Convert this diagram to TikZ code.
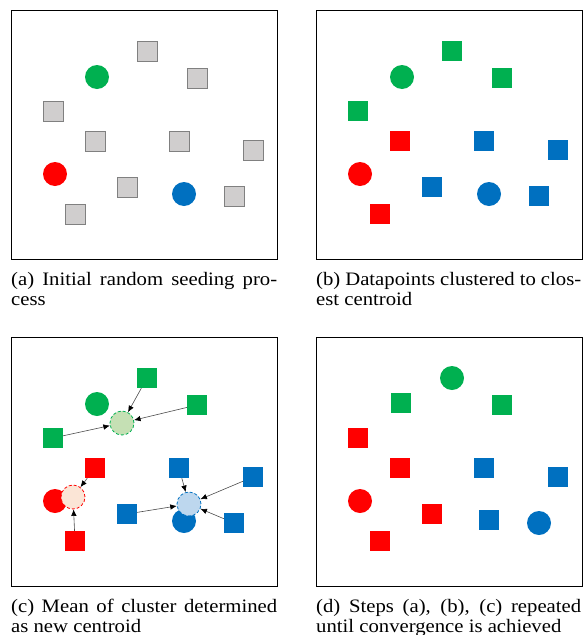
\documentclass[tikz,border=0pt]{standalone}
\usepackage{fontspec}
\setmainfont[FakeStretch=1.09]{Liberation Serif}
\usetikzlibrary{arrows.meta}
\definecolor{pointGreen}{RGB}{0,176,80}
\definecolor{pointRed}{RGB}{255,0,0}
\definecolor{pointBlue}{RGB}{0,112,192}
\definecolor{pointGray}{RGB}{208,206,206}
\definecolor{pointGrayBorder}{RGB}{128,128,128}
\definecolor{meanGreen}{RGB}{197,224,180}
\definecolor{meanRed}{RGB}{251,229,214}
\definecolor{meanBlue}{RGB}{189,215,238}
\tikzstyle{figure} = [x = 1pt, y = -1pt]
\tikzstyle{panelFrame} = [draw=black, line width=0.8pt]
\tikzstyle{dataSquare} = [rectangle, minimum size=20pt, inner sep=0pt]
\tikzstyle{graySquare} = [dataSquare, fill=pointGray, draw=pointGrayBorder, line width=0.8pt]
\tikzstyle{centroid} = [circle, minimum size=24pt, inner sep=0pt]
\tikzstyle{meanCentroid} = [centroid, densely dashed, line width=0.8pt]
\tikzstyle{meanArrow} = [draw=black!70, line width=0.6pt, -{Latex[black, length=6.5pt, width=5.5pt]}]
\tikzstyle{captionText} = [anchor=base west, align=left, inner sep=0pt, font=\fontsize{19}{20}\selectfont]
\newcommand{\panelBox}[2]{\draw [panelFrame] (#1, #2) rectangle + (266, 249);}
\newcommand{\grayPoint}[3]{\node [graySquare] (#1) at (#2, #3) {};}
\newcommand{\pointSquare}[4]{\node [dataSquare, fill=#2] (#1) at (#3, #4) {};}
\newcommand{\centroidDot}[4]{\node [centroid, fill=#2] (#1) at (#3, #4) {};}
\newcommand{\meanDot}[5]{\node [meanCentroid, draw=#2, fill=#3] (#1) at (#4, #5) {};}

\begin{document}
\begin{tikzpicture}[figure]
      \useasboundingbox (0, 0) rectangle (582, 635);

      % (a) initial seeding
      \panelBox{11}{10}
      \grayPoint{a1}{147}{51}
      \grayPoint{a2}{197}{78}
      \grayPoint{a3}{53}{111}
      \grayPoint{a4}{95}{141}
      \grayPoint{a5}{179}{141}
      \grayPoint{a6}{253}{150}
      \grayPoint{a7}{127}{187}
      \grayPoint{a8}{234}{196}
      \grayPoint{a9}{75}{214}
      \centroidDot{aG}{pointGreen}{97}{77}
      \centroidDot{aR}{pointRed}{55}{174}
      \centroidDot{aB}{pointBlue}{184}{194}
      % base anchor sits on the last line
      \node [captionText] (aCap) at (11, 305) {\makebox[266pt][s]{(a) Initial random seeding pro-}\\cess};

      % (b) clustered
      \panelBox{316}{10}
      \pointSquare{bG1}{pointGreen}{452}{51}
      \pointSquare{bG2}{pointGreen}{502}{78}
      \pointSquare{bG3}{pointGreen}{358}{111}
      \pointSquare{bR1}{pointRed}{400}{141}
      \pointSquare{bB1}{pointBlue}{484}{141}
      \pointSquare{bB2}{pointBlue}{558}{150}
      \pointSquare{bB3}{pointBlue}{432}{187}
      \pointSquare{bB4}{pointBlue}{539}{196}
      \pointSquare{bR2}{pointRed}{380}{214}
      \centroidDot{bG}{pointGreen}{402}{77}
      \centroidDot{bR}{pointRed}{360}{174}
      \centroidDot{bB}{pointBlue}{489}{194}
      \node [captionText] (bCap) at (316, 305) {\makebox[265pt][s]{(b) Datapoints clustered to clos-}\\est centroid};

      % (c) new means
      \panelBox{11}{337}
      \pointSquare{cG1}{pointGreen}{147}{378}
      \pointSquare{cG2}{pointGreen}{197}{405}
      \pointSquare{cG3}{pointGreen}{53}{438}
      \pointSquare{cR1}{pointRed}{95}{468}
      \pointSquare{cB1}{pointBlue}{179}{468}
      \pointSquare{cB2}{pointBlue}{253}{477}
      \pointSquare{cB3}{pointBlue}{127}{514}
      \pointSquare{cB4}{pointBlue}{234}{523}
      \pointSquare{cR2}{pointRed}{75}{541}
      \centroidDot{cG}{pointGreen}{97}{404}
      \centroidDot{cR}{pointRed}{55}{501}
      \centroidDot{cB}{pointBlue}{184}{521}
      \meanDot{cMG}{pointGreen}{meanGreen}{122}{423}
      \meanDot{cMR}{pointRed}{meanRed}{73}{497}
      \meanDot{cMB}{pointBlue}{meanBlue}{189}{504}
      \foreach \src in {cG1, cG2, cG3} {\draw [meanArrow] (\src) -- (cMG);}
      \foreach \src in {cR1, cR2} {\draw [meanArrow] (\src) -- (cMR);}
      \foreach \src in {cB1, cB2, cB3, cB4} {\draw [meanArrow] (\src) -- (cMB);}
      \node [captionText] (cCap) at (11, 632) {\makebox[266pt][s]{(c) Mean of cluster determined}\\as new centroid};

      % (d) converged
      \panelBox{316}{337}
      \pointSquare{dG1}{pointGreen}{401}{403}
      \pointSquare{dG2}{pointGreen}{502}{405}
      \pointSquare{dR1}{pointRed}{358}{438}
      \pointSquare{dR2}{pointRed}{400}{468}
      \pointSquare{dB1}{pointBlue}{484}{468}
      \pointSquare{dB2}{pointBlue}{558}{477}
      \pointSquare{dR3}{pointRed}{432}{514}
      \pointSquare{dB3}{pointBlue}{489}{520}
      \pointSquare{dR4}{pointRed}{380}{541}
      \centroidDot{dG}{pointGreen}{452}{378}
      \centroidDot{dR}{pointRed}{360}{501}
      \centroidDot{dB}{pointBlue}{539}{523}
      \node [captionText] (dCap) at (316, 632) {\makebox[265pt][s]{(d) Steps (a), (b), (c) repeated}\\until convergence is achieved};
    \end{tikzpicture}
\end{document}
